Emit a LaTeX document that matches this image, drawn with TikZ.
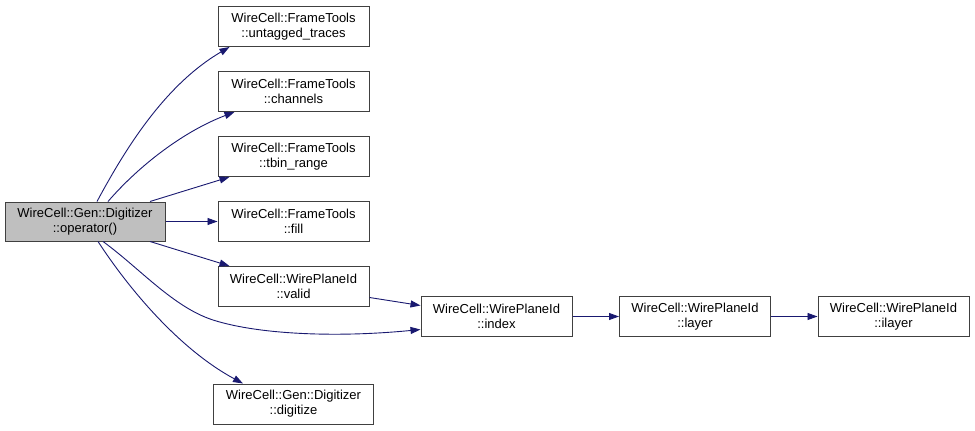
\documentclass[tikz,border=0pt]{standalone}
\usepackage{fontspec}
\setmainfont{Liberation Sans}
\usepackage{xcolor}
\usepackage{tikz}
\usetikzlibrary{positioning, arrows.meta}

\definecolor{navyedge}{HTML}{191970}
\definecolor{boxline}{HTML}{404040}
\definecolor{rootfill}{HTML}{BFBFBF}

\begin{document}
\begin{tikzpicture}[x=1pt, y=1pt, node distance=65pt,
        >={Triangle[length=10pt,width=7pt]},
        box/.style={draw=boxline, line width=1pt, fill=white, inner sep=0pt,
            minimum width=151pt, minimum height=40pt, align=center,
            font=\fontsize{13}{15}\selectfont},
        rootbox/.style={box, fill=rootfill, minimum width=160pt, minimum height=39pt},
        wide/.style={box, minimum width=160pt}]
        \useasboundingbox (0,0) rectangle (975,-431);

        \node (root) [rootbox] at (85,-221.5) {WireCell::Gen::Digitizer\\::operator()};

        \node (fill) [box, right of=root, node distance=208.5pt] {WireCell::FrameTools\\::fill};
        \node (tbin) [box, above of=fill] {WireCell::FrameTools\\::tbin\_range};
        \node (channels) [box, above of=tbin] {WireCell::FrameTools\\::channels};
        \node (untagged) [box, above of=channels] {WireCell::FrameTools\\::untagged\_traces};
        \node (valid) [box, below of=fill] {WireCell::WirePlaneId\\::valid};
        \node (digitize) [wide, below of=valid, node distance=117.5pt] {WireCell::Gen::Digitizer\\::digitize};

        \node (index) [box, right of=valid, node distance=203pt, yshift=-30pt] {WireCell::WirePlaneId\\::index};
        \node (layer) [box, right of=index, node distance=198.5pt] {WireCell::WirePlaneId\\::layer};
        \node (ilayer) [box, right of=layer, node distance=198.5pt] {WireCell::WirePlaneId\\::ilayer};

        \coordinate (dip) at (213,-320);

        \draw[->, draw=navyedge, line width=0.9pt] ([xshift=12pt]root.north) .. controls +(28,52) and +(-65,-38) .. ([xshift=12pt]untagged.south west);
        \draw[->, draw=navyedge, line width=0.9pt] ([xshift=23pt]root.north) .. controls +(32,37) and +(-50,-19) .. ([xshift=17pt]channels.south west);
        \draw[->, draw=navyedge, line width=0.9pt] ([xshift=65pt]root.north) -- ([xshift=12pt]tbin.south west);
        \draw[->, draw=navyedge, line width=0.9pt] (root.east) -- (fill.west);
        \draw[->, draw=navyedge, line width=0.9pt] ([xshift=65pt]root.south) -- ([xshift=12pt]valid.north west);
        \draw[->, draw=navyedge, line width=0.9pt] ([xshift=18pt]root.south) .. controls +(37,-27) and +(-40,13) .. (dip)
            .. controls +(47,-15) and +(-81,-8) .. ([yshift=-13pt]index.west);
        \draw[->, draw=navyedge, line width=0.9pt] ([xshift=13pt]root.south) .. controls +(32,-49) and +(-63,34) .. ([xshift=30pt]digitize.north west);

        \draw[->, draw=navyedge, line width=0.9pt] ([yshift=-11pt]valid.east) -- ([yshift=11pt]index.west);
        \draw[->, draw=navyedge, line width=0.9pt] (index.east) -- (layer.west);
        \draw[->, draw=navyedge, line width=0.9pt] (layer.east) -- (ilayer.west);
    \end{tikzpicture}
\end{document}
